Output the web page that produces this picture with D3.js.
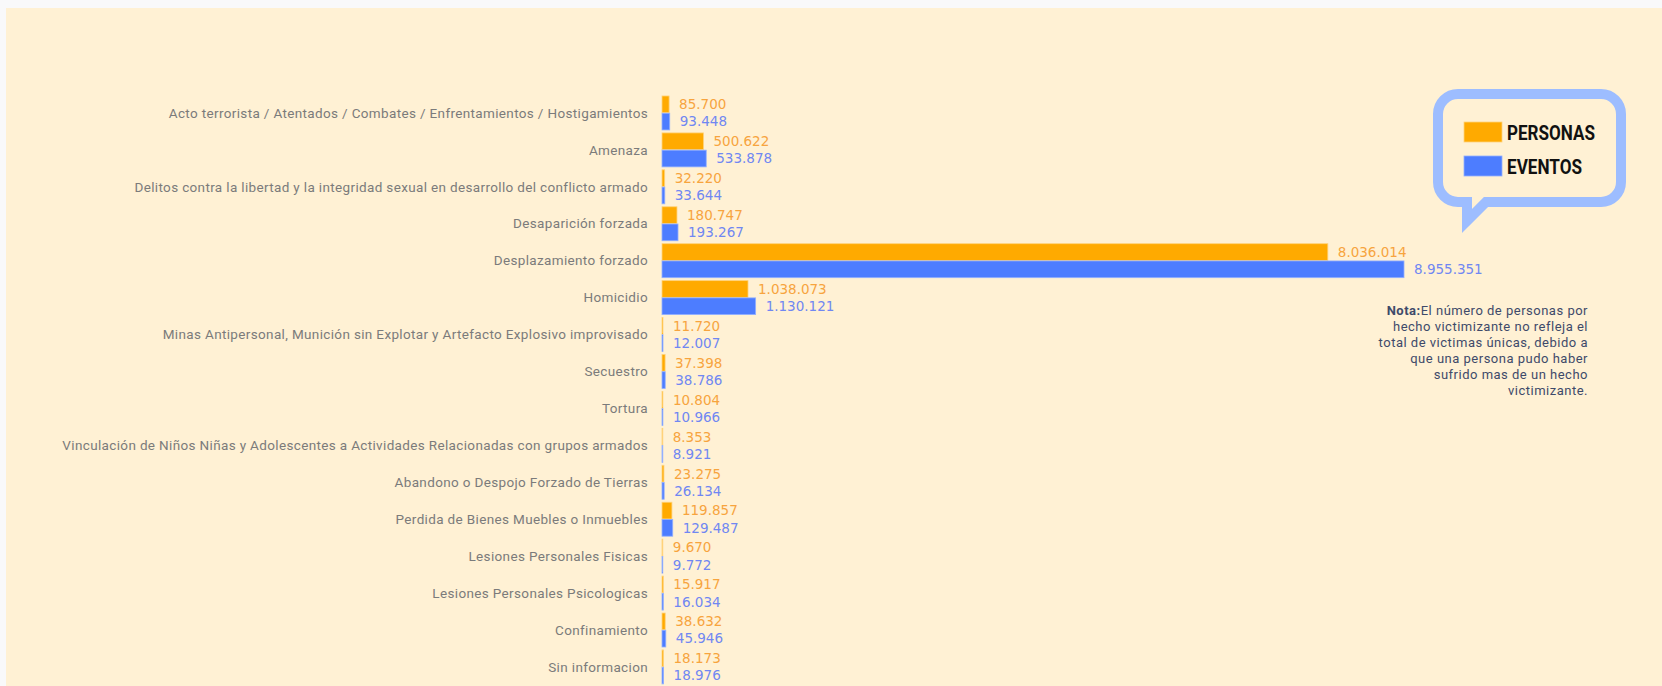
<!DOCTYPE html>
<html>
<head>
<meta charset="utf-8">
<script src="https://cdn.jsdelivr.net/npm/d3@7"></script>
<style>
  html, body { margin: 0; padding: 0; background: #f9f9fa; }
  svg { display: block; }
</style>
</head>
<body>
<svg id="chart"></svg>
<script>
// Hechos victimizantes - personas vs eventos
const categories = [
  "Acto terrorista / Atentados / Combates / Enfrentamientos / Hostigamientos",
  "Amenaza",
  "Delitos contra la libertad y la integridad sexual en desarrollo del conflicto armado",
  "Desaparición forzada",
  "Desplazamiento forzado",
  "Homicidio",
  "Minas Antipersonal, Munición sin Explotar y Artefacto Explosivo improvisado",
  "Secuestro",
  "Tortura",
  "Vinculación de Niños Niñas y Adolescentes a Actividades Relacionadas con grupos armados",
  "Abandono o Despojo Forzado de Tierras",
  "Perdida de Bienes Muebles o Inmuebles",
  "Lesiones Personales Fisicas",
  "Lesiones Personales Psicologicas",
  "Confinamiento",
  "Sin informacion"
];
const personas = [85700, 500622, 32220, 180747, 8036014, 1038073, 11720, 37398, 10804, 8353, 23275, 119857, 9670, 15917, 38632, 18173];
const eventos = [93448, 533878, 33644, 193267, 8955351, 1130121, 12007, 38786, 10966, 8921, 26134, 129487, 9772, 16034, 45946, 18976];
const seriesNames = ["PERSONAS", "EVENTOS"];
const notaLines = [
  "El número de personas por",
  "hecho victimizante no refleja el",
  "total de victimas únicas, debido a",
  "que una persona pudo haber",
  "sufrido mas de un hecho",
  "victimizante."
];

const width = 1662;
const height = 686;

const barColors = ["#ffaa00", "#4d7dff"];
const barStroke = ["#ffd27a", "#93b0ff"];
const labelColors = ["#f7a43e", "#7087f2"];

const esLocale = d3.formatLocale({ decimal: ",", thousands: ".", grouping: [3], currency: ["$", ""] });
const fmt = esLocale.format(",d");

const svg = d3.select("#chart")
  .attr("width", width)
  .attr("height", height);

// cream panel
svg.append("rect")
  .attr("x", 6).attr("y", 8)
  .attr("width", width - 6).attr("height", height - 8)
  .attr("fill", "#fff1d4");

// scales
const y = d3.scaleBand()
  .domain(categories)
  .range([94.5, 685.4])
  .paddingInner(0.08)
  .paddingOuter(0.04);

const ySub = d3.scaleBand()
  .domain(seriesNames)
  .range([0, y.bandwidth()])
  .paddingInner(0.03);

const x = d3.scaleLinear()
  .domain([0, d3.max(eventos)])
  .range([662, 1404]);

const rows = categories.map((c, i) => ({ cat: c, vals: [personas[i], eventos[i]] }));

const group = svg.selectAll(".row")
  .data(rows)
  .enter().append("g")
  .attr("class", "row")
  .attr("transform", d => `translate(0,${y(d.cat)})`);

// category labels
group.append("text")
  .attr("x", 648)
  .attr("y", y.bandwidth() / 2)
  .attr("dy", "0.35em")
  .attr("text-anchor", "end")
  .style("font-family", "Roboto, sans-serif")
  .style("font-size", "13.5px")
  .style("letter-spacing", "0.35px")
  .attr("fill", "#7b7b7b")
  .text(d => d.cat);

// bars
group.selectAll("rect")
  .data(d => d.vals.map((v, k) => ({ v, k })))
  .enter().append("rect")
  .attr("x", x(0))
  .attr("y", d => ySub(seriesNames[d.k]))
  .attr("width", d => Math.max(x(d.v) - x(0), 0.8))
  .attr("height", ySub.bandwidth())
  .attr("fill", d => barColors[d.k])
  .attr("stroke", d => barStroke[d.k])
  .attr("stroke-width", 0.8);

// value labels
group.selectAll(".val")
  .data(d => d.vals.map((v, k) => ({ v, k })))
  .enter().append("text")
  .attr("class", "val")
  .attr("x", d => x(d.v) + 10)
  .attr("y", d => ySub(seriesNames[d.k]) + ySub.bandwidth() / 2)
  .attr("dy", "0.36em")
  .style("font-family", "'DejaVu Sans', sans-serif")
  .style("font-size", "13.5px")
  .attr("fill", d => labelColors[d.k])
  .text(d => fmt(d.v));

// legend speech bubble
const bubble = svg.append("g").attr("class", "legend");
const bx0 = 1438, bx1 = 1621, by0 = 94, by1 = 202, r = 20;
const bubblePath = d3.path();
bubblePath.moveTo(bx0 + r, by0);
bubblePath.lineTo(bx1 - r, by0);
bubblePath.arcTo(bx1, by0, bx1, by0 + r, r);
bubblePath.lineTo(bx1, by1 - r);
bubblePath.arcTo(bx1, by1, bx1 - r, by1, r);
bubblePath.lineTo(1486, by1);
bubblePath.lineTo(1467, 221);
bubblePath.lineTo(1467, by1);
bubblePath.lineTo(bx0 + r, by1);
bubblePath.arcTo(bx0, by1, bx0, by1 - r, r);
bubblePath.lineTo(bx0, by0 + r);
bubblePath.arcTo(bx0, by0, bx0 + r, by0, r);
bubblePath.closePath();

bubble.append("path")
  .attr("d", bubblePath.toString())
  .attr("fill", "#fff1d4")
  .attr("stroke", "#9dbdff")
  .attr("stroke-width", 10)
  .attr("stroke-linejoin", "miter")
  .attr("stroke-miterlimit", 10);

const legendItems = bubble.selectAll(".item")
  .data(seriesNames)
  .enter().append("g")
  .attr("class", "item")
  .attr("transform", (d, i) => `translate(1464,${122 + i * 34})`);

legendItems.append("rect")
  .attr("width", 38)
  .attr("height", 20)
  .attr("fill", (d, i) => barColors[i])
  .attr("stroke", (d, i) => barStroke[i])
  .attr("stroke-width", 0.8);

legendItems.append("text")
  .attr("x", 43)
  .attr("y", 18)
  .style("font-family", "Roboto, sans-serif")
  .style("font-size", "20px")
  .style("font-weight", "700")
  .attr("fill", "#111")
  .attr("textLength", (d, i) => i === 0 ? 88 : 75)
  .attr("lengthAdjust", "spacingAndGlyphs")
  .text(d => d);

// nota
const nota = svg.append("text")
  .attr("text-anchor", "end")
  .style("font-family", "Roboto, sans-serif")
  .style("font-size", "13px")
  .style("letter-spacing", "0.5px")
  .attr("fill", "#3e4a6a");

notaLines.forEach((line, i) => {
  const t = nota.append("tspan")
    .attr("x", 1588)
    .attr("y", 315 + i * 15.9);
  if (i === 0) {
    t.append("tspan").style("font-weight", "700").text("Nota:");
    t.append("tspan").text(line);
  } else {
    t.text(line);
  }
});
</script>
</body>
</html>
